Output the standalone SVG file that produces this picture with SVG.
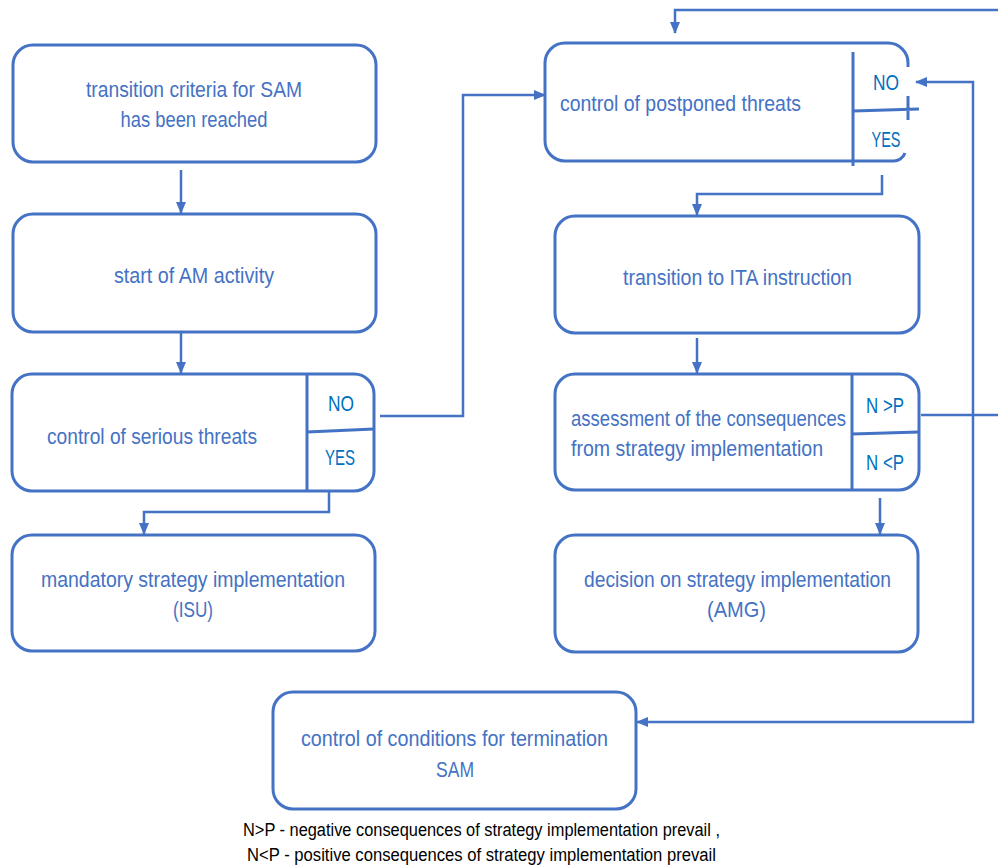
<svg xmlns="http://www.w3.org/2000/svg" width="998" height="866" viewBox="0 0 998 866">
<style>
.box{fill:#fff;stroke:#4472C4;stroke-width:3}
.ln{fill:none;stroke:#4472C4;stroke-width:3}
.cn{fill:none;stroke:#4472C4;stroke-width:2.5}
.t{font-family:"Liberation Sans",Arial,sans-serif;font-size:22px;fill:#4472C4}
.m{text-anchor:middle}
.k{font-family:"Liberation Sans",Arial,sans-serif;font-size:22px;fill:#0070C0;text-anchor:middle}
.n{font-family:"Liberation Sans",Arial,sans-serif;font-size:18px;fill:#000;text-anchor:middle}
</style>
<defs>
<marker id="ah" markerUnits="userSpaceOnUse" markerWidth="12" markerHeight="12" viewBox="0 0 12 12" refX="11" refY="6" orient="auto-start-reverse">
<path d="M0,1 L12,6 L0,11 Z" fill="#4472C4"/>
</marker>
</defs>
<rect width="998" height="866" fill="#fff"/>

<g id="connectors">
<path class="cn" d="M181,170 L181,213" marker-end="url(#ah)"/>
<path class="cn" d="M181,332 L181,373" marker-end="url(#ah)"/>
<path class="cn" d="M380,416 L463,416 L463,95 L545,95" marker-end="url(#ah)"/>
<path class="cn" d="M329,492 L329,512 L144,512 L144,534" marker-end="url(#ah)"/>
<path class="cn" d="M998,10 L675,10 L675,33" marker-end="url(#ah)"/>
<path class="cn" d="M882,175 L882,194 L697,194 L697,215" marker-end="url(#ah)"/>
<path class="cn" d="M697,338 L697,373" marker-end="url(#ah)"/>
<path class="cn" d="M921,415 L998,415"/>
<path class="cn" d="M880,498 L880,534" marker-end="url(#ah)"/>
<path class="cn" d="M916,82 L973,82 L973,722 L637,722" marker-start="url(#ah)" marker-end="url(#ah)"/>
</g>

<g id="n1">
<rect class="box" x="13" y="45" width="363" height="117" rx="20"/>
<text class="t m" x="194" y="97" textLength="216" lengthAdjust="spacingAndGlyphs">transition criteria for SAM</text>
<text class="t m" x="194" y="127" textLength="147" lengthAdjust="spacingAndGlyphs">has been reached</text>
</g>

<g id="n2">
<rect class="box" x="13" y="214" width="363" height="118" rx="20"/>
<text class="t m" x="194" y="283" textLength="160" lengthAdjust="spacingAndGlyphs">start of AM activity</text>
</g>

<g id="n3">
<rect class="box" x="12" y="374" width="362" height="117" rx="20"/>
<path class="ln" d="M307,374 L307,491 M307,432 L374,429"/>
<text class="t m" x="152" y="444" textLength="210" lengthAdjust="spacingAndGlyphs">control of serious threats</text>
<text class="k" x="341" y="411" textLength="26" lengthAdjust="spacingAndGlyphs">NO</text>
<text class="k" x="340" y="465" textLength="30" lengthAdjust="spacingAndGlyphs">YES</text>
</g>

<g id="n4">
<rect class="box" x="12" y="535" width="363" height="116" rx="20"/>
<text class="t m" x="193" y="587" textLength="304" lengthAdjust="spacingAndGlyphs">mandatory strategy implementation</text>
<text class="t m" x="193" y="617" textLength="40" lengthAdjust="spacingAndGlyphs">(ISU)</text>
</g>

<g id="n5">
<path class="ln" d="M908,67 L908,63 A20,20 0 0 0 888,43 L565,43 A20,20 0 0 0 545,63 L545,141 A20,20 0 0 0 565,161 L893,161 A12,12 0 0 0 905,153"/>
<path class="ln" d="M908,96 L908,120 M853,52 L853,166 M853,111 L919,109"/>
<text class="t" x="560" y="111" textLength="241" lengthAdjust="spacingAndGlyphs">control of postponed threats</text>
<text class="k" x="886" y="90" textLength="26" lengthAdjust="spacingAndGlyphs">NO</text>
<text class="k" x="886" y="147" textLength="29" lengthAdjust="spacingAndGlyphs">YES</text>
</g>

<g id="n6">
<rect class="box" x="555" y="216" width="364" height="117" rx="20"/>
<text class="t m" x="737.5" y="285" textLength="229" lengthAdjust="spacingAndGlyphs">transition to ITA instruction</text>
</g>

<g id="n7">
<rect class="box" x="555" y="374" width="364" height="116" rx="20"/>
<path class="ln" d="M852,374 L852,490 M852,434 L919,432"/>
<text class="t" x="571" y="426" textLength="275" lengthAdjust="spacingAndGlyphs">assessment of the consequences</text>
<text class="t" x="571" y="456" textLength="252" lengthAdjust="spacingAndGlyphs">from strategy implementation</text>
<text class="k" x="885" y="413" textLength="38" lengthAdjust="spacingAndGlyphs">N &gt;P</text>
<text class="k" x="885" y="470" textLength="38" lengthAdjust="spacingAndGlyphs">N &lt;P</text>
</g>

<g id="n8">
<rect class="box" x="555" y="535" width="363" height="117" rx="20"/>
<text class="t m" x="737.5" y="587" textLength="307" lengthAdjust="spacingAndGlyphs">decision on strategy implementation</text>
<text class="t m" x="736.5" y="617" textLength="59" lengthAdjust="spacingAndGlyphs">(AMG)</text>
</g>

<g id="n9">
<rect class="box" x="273" y="692" width="363" height="117" rx="20"/>
<text class="t m" x="454.5" y="746" textLength="307" lengthAdjust="spacingAndGlyphs">control of conditions for termination</text>
<text class="t m" x="455" y="777" textLength="38" lengthAdjust="spacingAndGlyphs">SAM</text>
</g>

<g id="legend">
<text class="n" x="481.5" y="836" textLength="477" lengthAdjust="spacingAndGlyphs">N&gt;P - negative consequences of strategy implementation prevail ,</text>
<text class="n" x="481.5" y="861" textLength="469" lengthAdjust="spacingAndGlyphs">N&lt;P - positive consequences of strategy implementation prevail</text>
</g>
</svg>
